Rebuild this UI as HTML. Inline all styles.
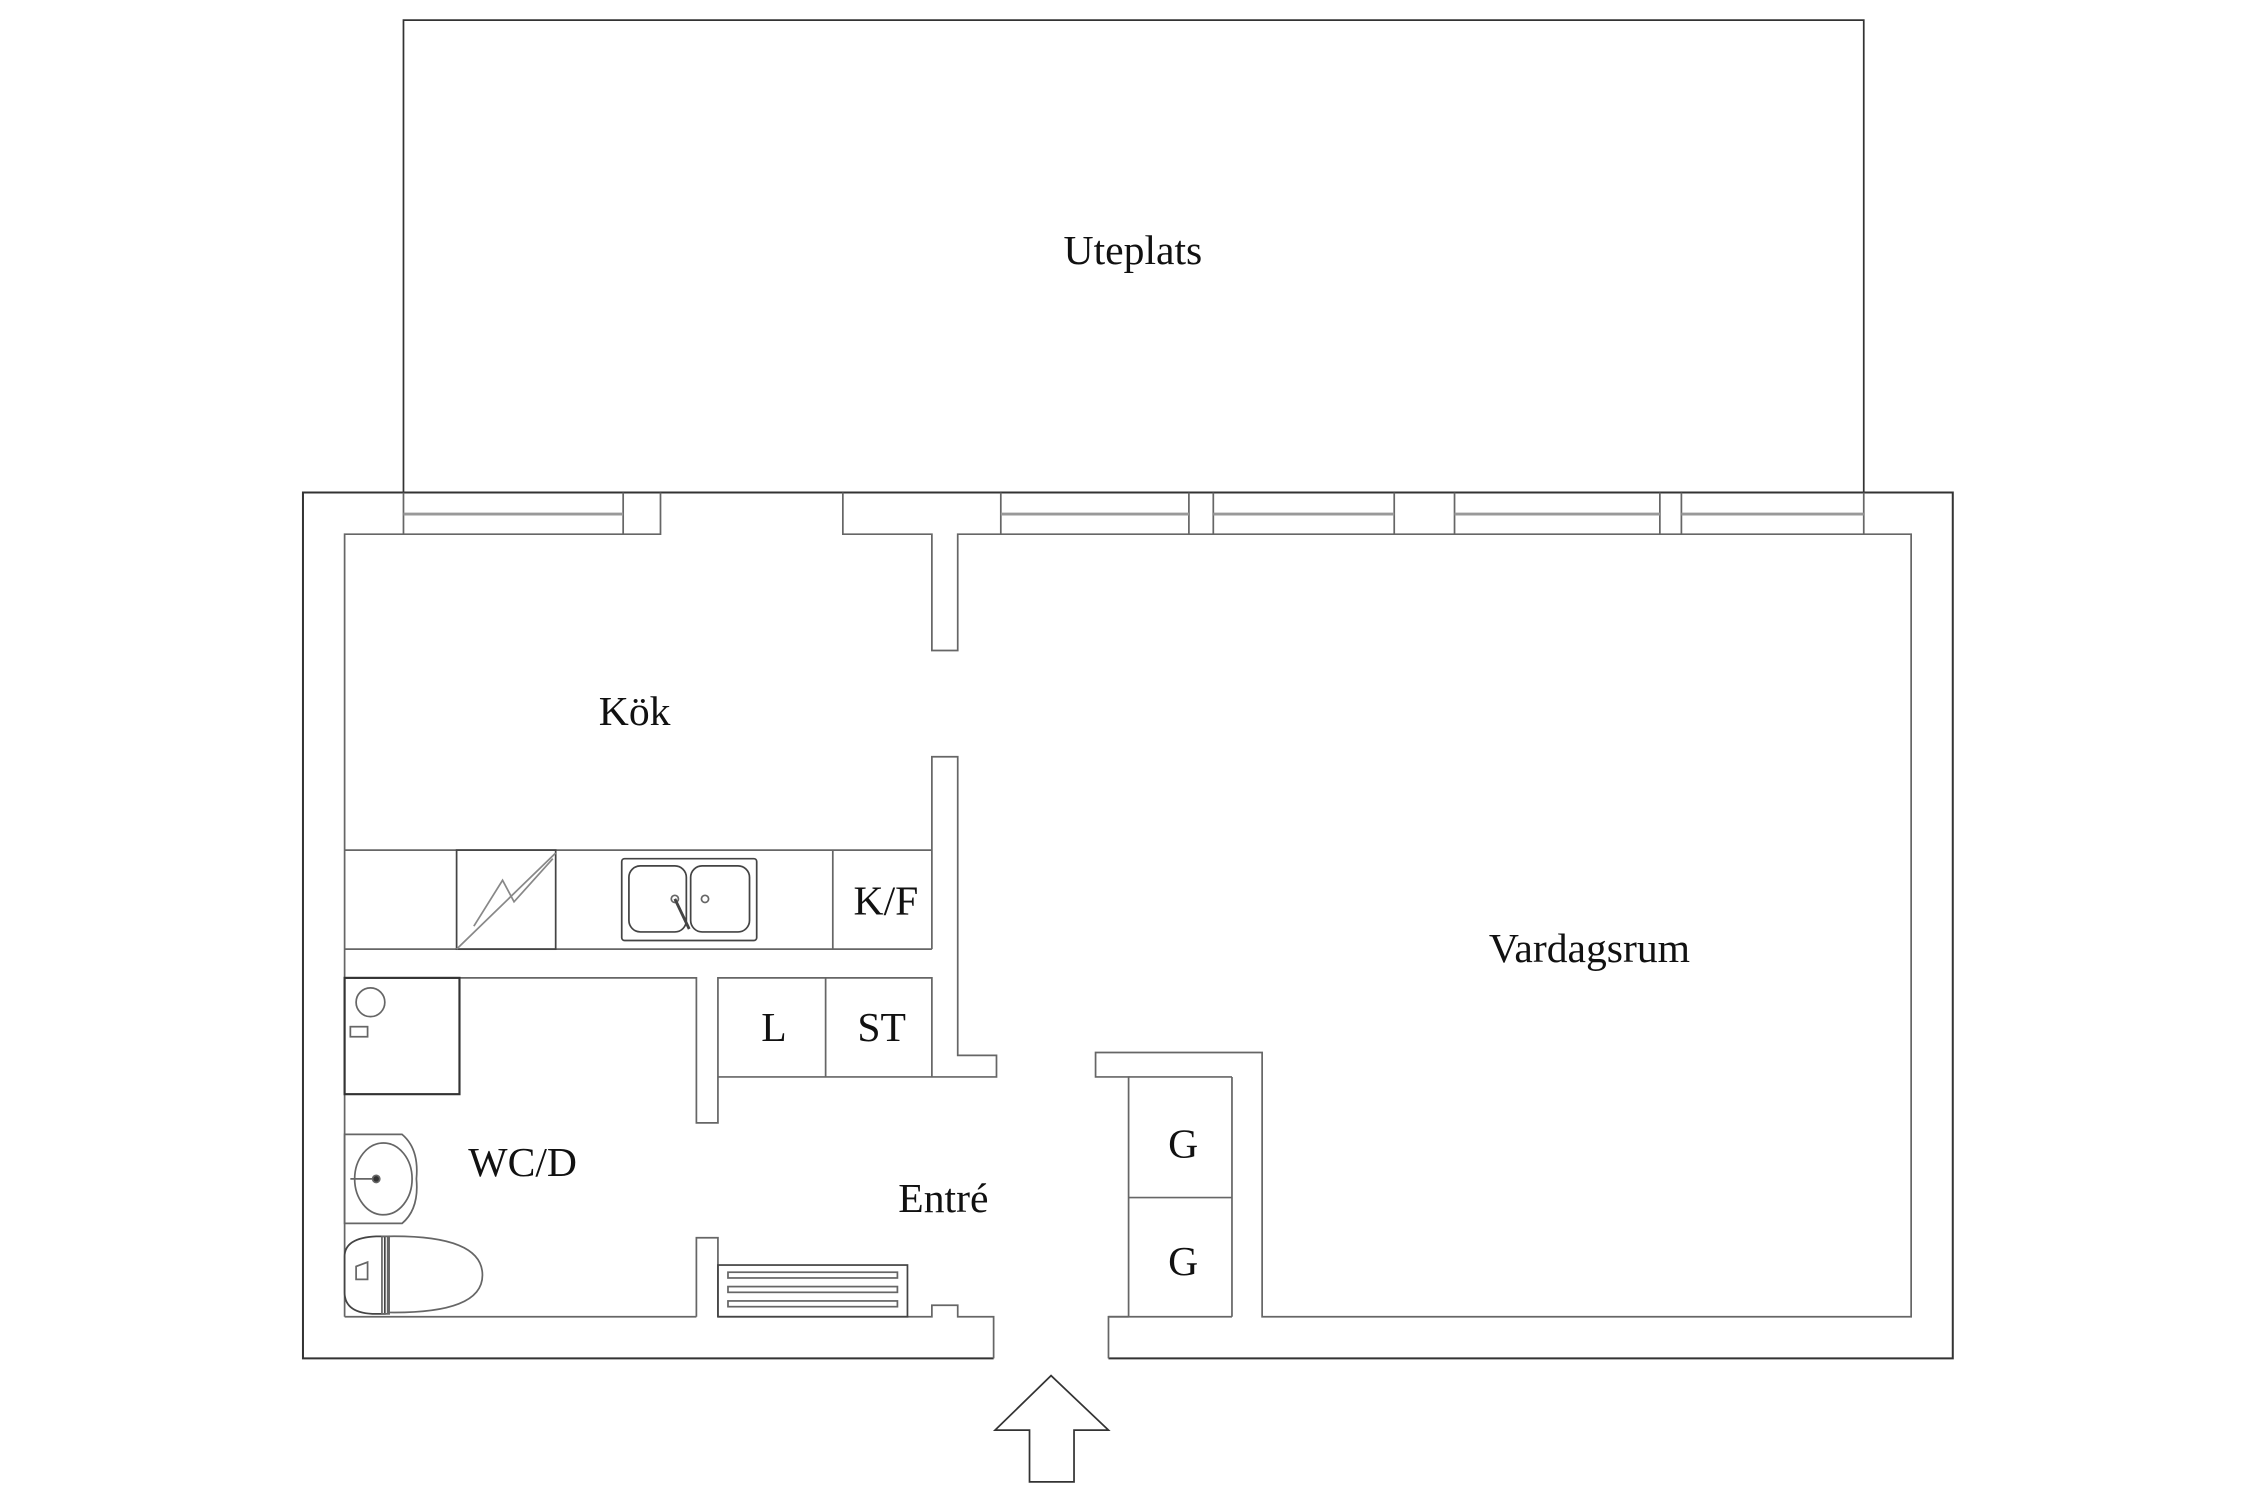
<!DOCTYPE html>
<html><head><meta charset="utf-8"><style>
html,body{margin:0;padding:0;background:#fff}
svg{display:block}
text{font-family:"Liberation Serif",serif;font-size:29px;fill:#111;text-anchor:middle}
</style></head><body>
<svg width="2250" height="1500" viewBox="0 0 1567 1044.6" xmlns="http://www.w3.org/2000/svg">
<g fill="none" stroke="#666" stroke-width="1.2">
<polyline points="281,343 281,14 1298,14 1298,343" stroke="#333"/>
<polyline points="692,946 211,946 211,343 1360,343 1360,946 772,946" stroke="#333" stroke-width="1.4"/>
<polyline points="240,917 240,372 460,372 460,343"/>
<line x1="434" y1="343" x2="434" y2="372"/>
<line x1="281" y1="343" x2="281" y2="372"/>
<line x1="281" y1="358" x2="434" y2="358" stroke="#999" stroke-width="2"/>
<polyline points="587,343 587,372 649,372 649,453 667,453 667,372 1331,372 1331,917 879,917 879,733 763,733 763,750 786,750 786,917"/>
<line x1="786" y1="750" x2="858" y2="750"/>
<line x1="772" y1="917" x2="858" y2="917"/>
<line x1="697" y1="343" x2="697" y2="372"/>
<line x1="828" y1="343" x2="828" y2="372"/>
<line x1="845" y1="343" x2="845" y2="372"/>
<line x1="971" y1="343" x2="971" y2="372"/>
<line x1="1013" y1="343" x2="1013" y2="372"/>
<line x1="1156" y1="343" x2="1156" y2="372"/>
<line x1="1171" y1="343" x2="1171" y2="372"/>
<line x1="1298" y1="343" x2="1298" y2="372"/>
<g stroke="#999" stroke-width="2">
<line x1="697" y1="358" x2="828" y2="358"/>
<line x1="845" y1="358" x2="971" y2="358"/>
<line x1="1013" y1="358" x2="1156" y2="358"/>
<line x1="1171" y1="358" x2="1298" y2="358"/>
</g>
<polyline points="649,661 649,527 667,527 667,735 694,735 694,750 500,750"/>
<polyline points="240,592 649,592"/>
<polyline points="240,661 649,661"/>
<line x1="580" y1="592" x2="580" y2="661"/>
<rect x="318" y="592" width="69" height="69" stroke="#444"/>
<line x1="318" y1="661" x2="387" y2="594" stroke="#888"/>
<polyline points="330,645 350,613 358,628 385,598" stroke="#888"/>
<rect x="433" y="598" width="94" height="57" rx="2" stroke="#444"/>
<rect x="438" y="603" width="40" height="46" rx="8" stroke="#444"/>
<rect x="481" y="603" width="41" height="46" rx="8" stroke="#444"/>
<circle cx="470" cy="626" r="2.5"/><circle cx="491" cy="626" r="2.5"/>
<line x1="470" y1="626" x2="480" y2="647" stroke="#444" stroke-width="2"/>
<polyline points="240,681 485,681 485,782 500,782 500,681 649,681 649,750"/>
<line x1="575" y1="681" x2="575" y2="750"/>
<polyline points="485,917 485,862 500,862 500,917"/>
<line x1="240" y1="917" x2="485" y2="917"/>
<polyline points="500,917 649,917 649,909 667,909 667,917 692,917 692,946"/>
<polyline points="772,946 772,917 786,917"/>
<line x1="786" y1="834" x2="858" y2="834"/>
<polyline points="858,750 858,917"/>
<rect x="240" y="681" width="80" height="81" stroke="#333" stroke-width="1.5"/>
<circle cx="258" cy="698" r="10"/>
<rect x="244" y="715" width="12" height="7"/>
<path d="M240,790 H280 Q292,800 290,821 Q292,842 280,852 H240 Z"/>
<ellipse cx="267" cy="821" rx="20" ry="25"/>
<circle cx="262" cy="821" r="2.5" fill="#333"/>
<line x1="244" y1="821" x2="260" y2="821"/>
<path d="M240,875 Q240,862 262,861 L268,861 L268,915 L262,915 Q240,915 240,900 Z" stroke="#444"/>
<path d="M270,861 Q336,860 336,888 Q336,915 270,914 Z"/>
<rect x="266" y="861" width="5" height="54"/>
<path d="M248,882 L256,879 L256,891 L248,891 Z"/>
<rect x="500" y="881" width="132" height="36" stroke="#444"/>
<rect x="507" y="886" width="118" height="4"/>
<rect x="507" y="896" width="118" height="4"/>
<rect x="507" y="906" width="118" height="4"/>
<polygon points="717,1032 748,1032 748,996 772,996 732,958 693,996 717,996" stroke="#333"/>
</g>
<text x="789" y="184">Uteplats</text>
<text x="442" y="505">Kök</text>
<text x="617" y="637">K/F</text>
<text x="1107" y="670">Vardagsrum</text>
<text x="539" y="725">L</text>
<text x="614" y="725">ST</text>
<text x="364" y="819">WC/D</text>
<text x="657" y="844">Entré</text>
<text x="824" y="806">G</text>
<text x="824" y="888">G</text>
</svg>
</body></html>
